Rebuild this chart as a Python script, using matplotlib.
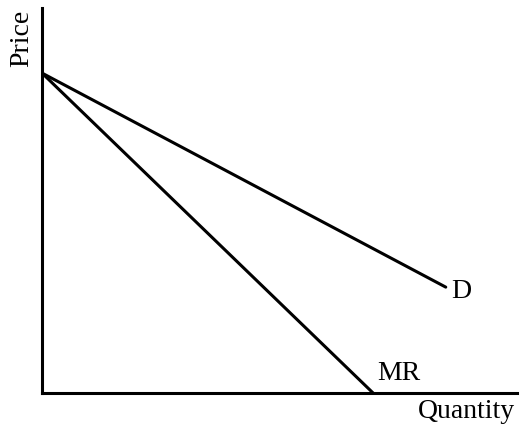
import matplotlib
matplotlib.use("Agg")
import matplotlib.pyplot as plt

# demand and marginal revenue lines (quantity, price)
demand_q = [0.0, 8.5]
demand_p = [8.31, 2.75]
mr_q = [0.0, 6.97]
mr_p = [8.31, 0.0]
curve_labels = ["D", "MR"]

plt.rcParams['font.family'] = ['Liberation Serif', 'DejaVu Serif']

fig = plt.figure(figsize=(5.2, 4.25), dpi=100)
ax = fig.add_axes([42 / 520, 32 / 425, 475 / 520, 385 / 425])

ax.plot(demand_q, demand_p, color='black', lw=2.2, solid_capstyle='round')
ax.plot(mr_q, mr_p, color='black', lw=2.2, solid_capstyle='round')

ax.text(demand_q[1] + 0.12, demand_p[1] - 0.12, curve_labels[0], fontsize=20,
        ha='left', va='center')
ax.text(mr_q[1] + 0.08, 0.18, curve_labels[1], fontsize=20, ha='left', va='bottom')

ax.set_xlim(0, 10)
ax.set_ylim(0, 10)
ax.set_xticks([])
ax.set_yticks([])
for side in ['top', 'right']:
    ax.spines[side].set_visible(False)
for side in ['left', 'bottom']:
    ax.spines[side].set_linewidth(2.2)

fig.text(22 / 520, 1 - 38 / 425, "Price", fontsize=20, rotation=90,
         ha='center', va='center')
fig.text(466 / 520, 1 - 411 / 425, "Quantity", fontsize=20,
         ha='center', va='center')

fig.savefig("out.png", dpi=100)
